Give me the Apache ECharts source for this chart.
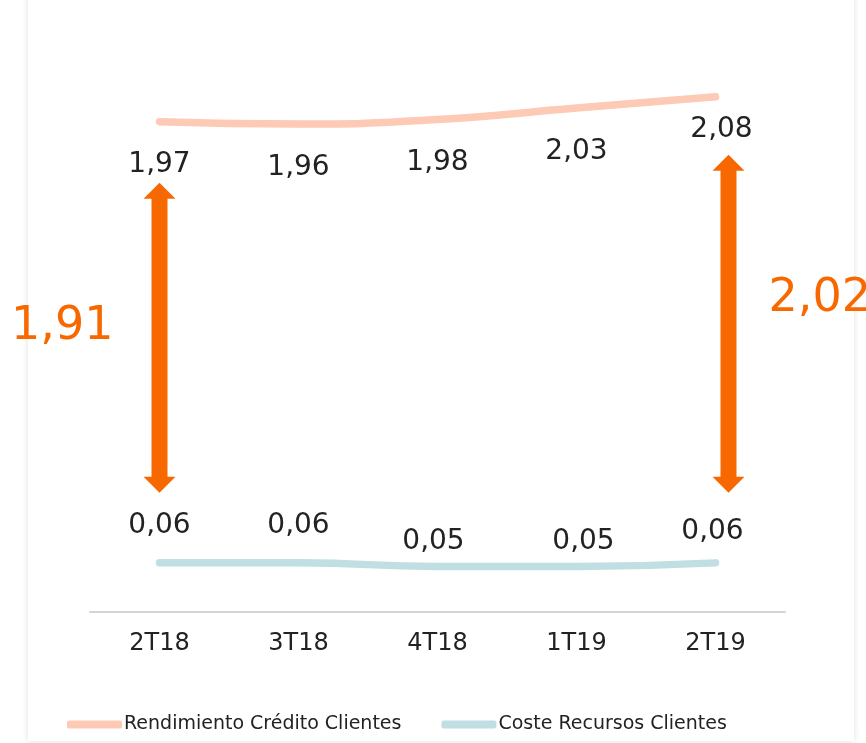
<!DOCTYPE html>
<html><head><meta charset="utf-8">
<script src="https://cdn.jsdelivr.net/npm/echarts@6/dist/echarts.min.js"></script>
<style>
html,body{margin:0;padding:0;background:#fff;width:866px;height:743px;overflow:hidden}
#card{position:absolute;left:28px;top:-20px;width:826px;height:761px;background:#fff;box-shadow:0 0 6px rgba(0,0,0,0.13);}
#c{position:absolute;left:0;top:0;width:866px;height:743px}
</style></head>
<body><div id="card"></div><div id="c"></div>
<script>
// ---- data ----
const categories = ['2T18', '3T18', '4T18', '1T19', '2T19'];
const rendimiento = [1.97, 1.96, 1.98, 2.03, 2.08];
const coste = [0.06, 0.06, 0.05, 0.05, 0.06];
const spreadIndex = [0, 4];
const spreadValues = [1.91, 2.02];
const seriesNames = ['Rendimiento Crédito Clientes', 'Coste Recursos Clientes'];

// ---- styles ----
const ORANGE = '#f76900';
const FONT = 'DejaVu Sans';
const upNudge = [[0,0],[0,0],[0,0],[0,0],[6,-11]];
const lowNudge = [[0,0],[0,0],[-4,13],[7,13],[-3,6]];
const fmt = v => v.toFixed(2).replace('.', ',');

const chart = echarts.init(document.getElementById('c'), null, {renderer: 'canvas'});
chart.setOption({
  animation: false,
  backgroundColor: 'transparent',
  grid: {left: 90, right: 81, top: 40, bottom: 131},
  xAxis: {
    type: 'category', data: categories, boundaryGap: true,
    axisLine: {onZero: false, lineStyle: {color: '#d4d4d4', width: 2}},
    axisTick: {show: false},
    axisLabel: {color: '#222', fontSize: 24, fontFamily: FONT, margin: 20}
  },
  yAxis: [
    {type: 'value', min: -0.19, max: 2.33, show: false, splitLine: {show: false}},
    {type: 'value', min: -0.08, max: 1.55, show: false, splitLine: {show: false}}
  ],
  legend: {
    left: 67, top: 715, padding: 0, icon: 'roundRect', itemWidth: 55, itemHeight: 8, itemGap: 40,
    textStyle: {color: '#222', fontSize: 19, fontFamily: FONT, padding: [0,0,0,-3]},
    data: seriesNames
  },
  series: [
    {
      name: seriesNames[0], type: 'line', yAxisIndex: 0, smooth: 0.5,
      symbol: 'circle', symbolSize: 1, showSymbol: true,
      lineStyle: {color: '#fdcab6', width: 7.5, cap: 'round'},
      itemStyle: {color: '#fdcab6'},
      label: {show: true, position: 'bottom', distance: 29, color: '#222', fontSize: 28, fontFamily: FONT, formatter: p => fmt(p.value)},
      data: rendimiento.map((v, i) => ({value: v, label: {offset: upNudge[i]}}))
    },
    {
      name: seriesNames[1], type: 'line', yAxisIndex: 1, smooth: 0.5,
      symbol: 'circle', symbolSize: 1, showSymbol: true,
      lineStyle: {color: '#bfdfe3', width: 7.5, cap: 'round'},
      itemStyle: {color: '#bfdfe3'},
      label: {show: true, position: 'top', distance: 23, color: '#222', fontSize: 28, fontFamily: FONT, formatter: p => fmt(p.value)},
      data: coste.map((v, i) => ({value: v, label: {offset: lowNudge[i]}}))
    }
  ]
});

// ---- spread arrows (annotations) ----
const arrowDx = [0, 13];
const topGap = [61, 58];
const botGap = 70;
const textPos = [{dx: -46, dy: -11, align: 'right'}, {dx: 40, dy: -25, align: 'left'}];
const graphics = [];
spreadIndex.forEach((ci, k) => {
  const pu = chart.convertToPixel({seriesIndex: 0}, [ci, rendimiento[ci]]);
  const pl = chart.convertToPixel({seriesIndex: 1}, [ci, coste[ci]]);
  const x = pu[0] + arrowDx[k];
  const yt = pu[1] + topGap[k];
  const yb = pl[1] - botGap;
  const hw = 16, sw = 8, hh = 16;
  graphics.push({
    type: 'polygon',
    shape: {points: [[x, yt], [x+hw, yt+hh], [x+sw, yt+hh], [x+sw, yb-hh], [x+hw, yb-hh], [x, yb], [x-hw, yb-hh], [x-sw, yb-hh], [x-sw, yt+hh], [x-hw, yt+hh]]},
    style: {fill: ORANGE}
  });
  const t = textPos[k];
  graphics.push({
    type: 'text', x: x + t.dx, y: (yt + yb) / 2 + t.dy,
    style: {text: fmt(spreadValues[k]), fill: ORANGE, fontSize: 46, fontFamily: FONT, align: t.align, verticalAlign: 'middle'}
  });
});
chart.setOption({graphic: graphics});
</script>
</body></html>
